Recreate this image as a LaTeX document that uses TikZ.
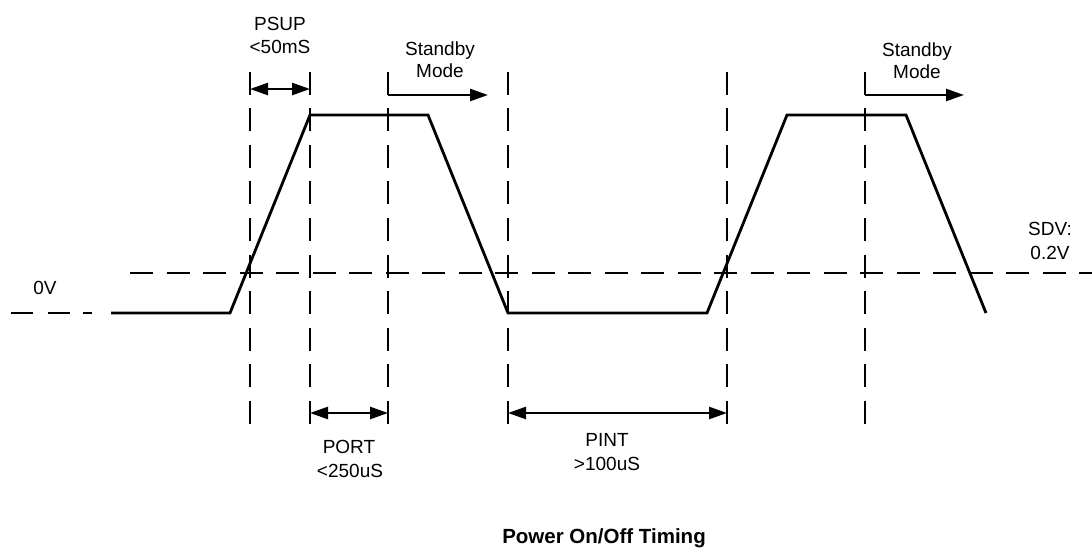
\documentclass[tikz,border=0pt]{standalone}
\usepackage{fontspec}
\setmainfont{Liberation Sans}
\usetikzlibrary{arrows.meta}
\begin{document}
\begin{tikzpicture}[x=1pt,y=-1pt,
  wave/.style={line width=2.8pt, line join=miter},
  guide/.style={line width=2.8pt, dash pattern=on 23pt off 13.5pt},
  dimarrow/.style={line width=2.5pt, {Triangle[length=18pt,width=12pt]}-{Triangle[length=18pt,width=12pt]}},
  onearrow/.style={line width=2.5pt, -{Triangle[length=18pt,width=12pt]}},
  lbl/.style={font=\fontsize{19}{23}\selectfont, anchor=base, inner sep=0pt},
  ttl/.style={font=\bfseries\fontsize{20.5}{24}\selectfont, anchor=base, inner sep=0pt}]
\useasboundingbox (0,0) rectangle (1092,548);
% waveform points
\coordinate (w0) at (11,313);
\coordinate (w1) at (111,313);
\coordinate (w2) at (230,313);
\coordinate (w3) at (310,115);
\coordinate (w4) at (428,115);
\coordinate (w5) at (508,313);
\coordinate (w6) at (707,313);
\coordinate (w7) at (787,115);
\coordinate (w8) at (906,115);
\coordinate (w9) at (986,313);
\draw[line width=2.8pt, dash pattern=on 22pt off 15pt on 22pt off 13pt on 9pt off 19pt] (w0) -- (w1);
\draw[wave] (w1) -- (w2) -- (w3) -- (w4) -- (w5) -- (w6) -- (w7) -- (w8) -- (w9);
% threshold line
\coordinate (h0) at (130,273);
\coordinate (h1) at (1092,273);
\draw[guide] (h0) -- (h1);
% vertical guides
\foreach \n/\x in {g1/250,g2/310,g3/388,g4/508,g5/727,g6/865}{
  \coordinate (\n t) at (\x,72);
  \coordinate (\n b) at (\x,424);
  \draw[guide] (\n t) -- (\n b);
}
% arrows
\coordinate (pa) at (250,89);
\coordinate (pb) at (310,89);
\draw[dimarrow] (pa) -- (pb);
\coordinate (sa) at (388,95);
\coordinate (sb) at (488,95);
\draw[onearrow] (sa) -- (sb);
\coordinate (ta) at (865,95);
\coordinate (tb) at (964,95);
\draw[onearrow] (ta) -- (tb);
\coordinate (ra) at (310,413);
\coordinate (rb) at (388,413);
\draw[dimarrow] (ra) -- (rb);
\coordinate (ia) at (508,413);
\coordinate (ib) at (727,413);
\draw[dimarrow] (ia) -- (ib);
% labels
\node[lbl] (psup1) at (280,31) {PSUP};
\node[lbl] (psup2) at (280,54) {<50mS};
\node[lbl] (sb1) at (440,56) {Standby};
\node[lbl] (sb2) at (440,78) {Mode};
\node[lbl] (sc1) at (917,57) {Standby};
\node[lbl] (sc2) at (917,79) {Mode};
\node[lbl] (sdv1) at (1050,235) {SDV:};
\node[lbl] (sdv2) at (1050,259) {0.2V};
\node[lbl] (zero) at (45,294) {0V};
\node[lbl] (port1) at (349,453) {PORT};
\node[lbl] (port2) at (350,477) {<250uS};
\node[lbl] (pint1) at (607,446) {PINT};
\node[lbl] (pint2) at (607,470) {>100uS};
\node[ttl] (title) at (604,543) {Power On/Off Timing};
\end{tikzpicture}
\end{document}
